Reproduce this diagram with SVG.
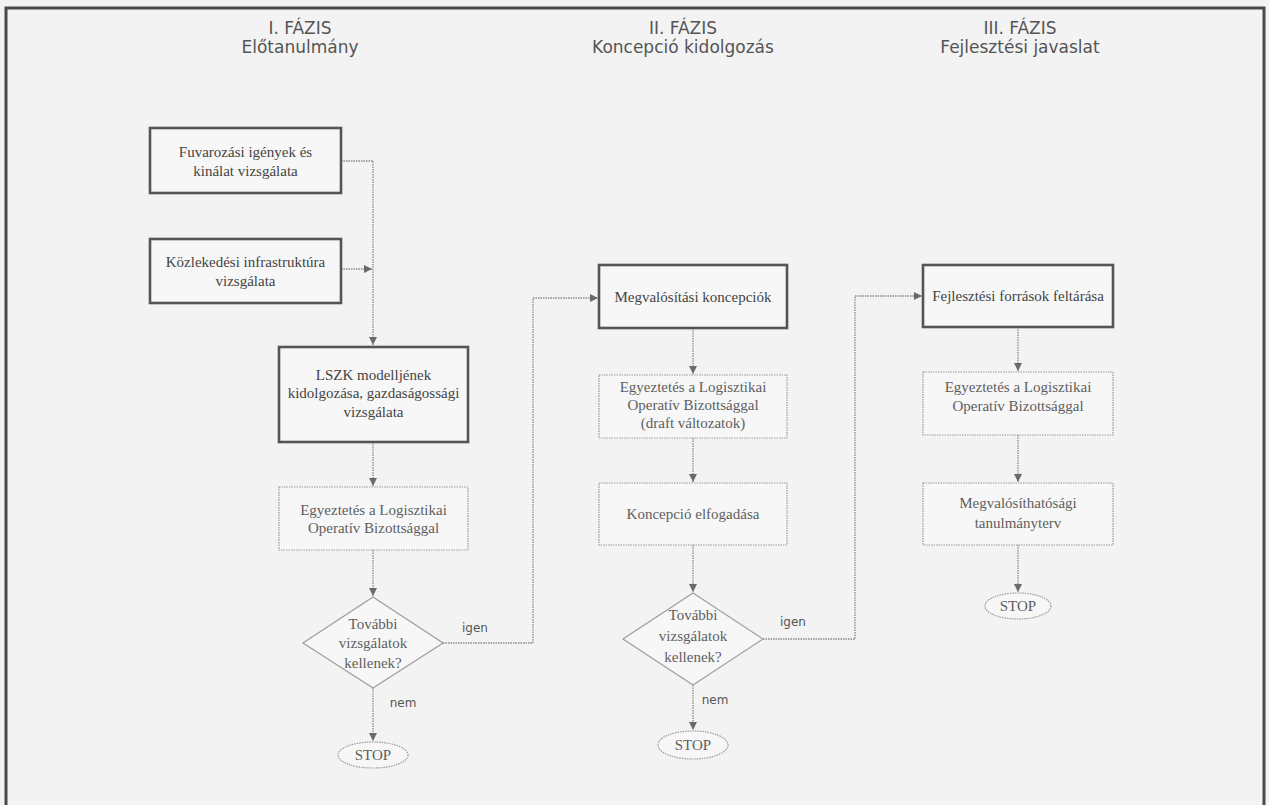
<svg xmlns="http://www.w3.org/2000/svg" width="1269" height="805" viewBox="0 0 1269 805">
<style>
.bg{fill:#f3f3f3}
.frame{fill:none;stroke:#4a4a4a;stroke-width:3}
.head{font-family:"DejaVu Sans","Verdana",sans-serif;font-size:17px;fill:#555;text-anchor:middle}
.thick{fill:#f7f7f7;stroke:#555;stroke-width:2.6}
.thin{fill:#f7f7f7;stroke:#9a9a9a;stroke-width:1.2;stroke-dasharray:1.5 1}
.dia{fill:#f7f7f7;stroke:#a0a0a0;stroke-width:1.3}
.ell{fill:#f7f7f7;stroke:#9a9a9a;stroke-width:1.2;stroke-dasharray:1.5 1}
.t{font-family:"Liberation Serif","Times New Roman",serif;font-size:15px;fill:#444;text-anchor:middle}
.tl{font-family:"Liberation Serif","Times New Roman",serif;font-size:15px;fill:#5e5e5e;text-anchor:middle}
.lab{font-family:"DejaVu Sans","Verdana",sans-serif;font-size:12px;fill:#555;text-anchor:middle}
.c{fill:none;stroke:#8a8a8a;stroke-width:1.3;stroke-dasharray:1.5 1}
</style>
<defs>
<marker id="arr" viewBox="0 0 10 10" refX="10" refY="5" markerWidth="8" markerHeight="8" markerUnits="userSpaceOnUse" orient="auto">
<path d="M0,0 L10,5 L0,10 z" fill="#6a6a6a"/>
</marker>
</defs>
<rect class="bg" x="0" y="0" width="1269" height="805"/>
<rect class="frame" x="6" y="8" width="1258" height="830"/>

<g id="headings">
<text class="head" x="300" y="34">I. FÁZIS</text>
<text class="head" x="300" y="53">Előtanulmány</text>
<text class="head" x="683" y="34">II. FÁZIS</text>
<text class="head" x="683" y="53">Koncepció kidolgozás</text>
<text class="head" x="1020" y="34">III. FÁZIS</text>
<text class="head" x="1020" y="53">Fejlesztési javaslat</text>
</g>

<g id="connectors">
<path class="c" d="M341,161 H373 V345" marker-end="url(#arr)"/>
<path class="c" d="M341,269 H372" marker-end="url(#arr)"/>
<path class="c" d="M373,442 V486" marker-end="url(#arr)"/>
<path class="c" d="M373,550 V596" marker-end="url(#arr)"/>
<path class="c" d="M373,688 V741" marker-end="url(#arr)"/>
<path class="c" d="M443,643 H533 V298 H598" marker-end="url(#arr)"/>
<path class="c" d="M693,328 V374" marker-end="url(#arr)"/>
<path class="c" d="M693,438 V482" marker-end="url(#arr)"/>
<path class="c" d="M693,545 V592" marker-end="url(#arr)"/>
<path class="c" d="M693,685 V730" marker-end="url(#arr)"/>
<path class="c" d="M763,639 H855 V296 H922" marker-end="url(#arr)"/>
<path class="c" d="M1018,327 V371" marker-end="url(#arr)"/>
<path class="c" d="M1018,435 V482" marker-end="url(#arr)"/>
<path class="c" d="M1018,545 V592" marker-end="url(#arr)"/>
<text class="lab" x="475" y="632">igen</text>
<text class="lab" x="403" y="707">nem</text>
<text class="lab" x="793" y="626">igen</text>
<text class="lab" x="715" y="704">nem</text>
</g>

<g id="n1">
<rect class="thick" x="150" y="128" width="191" height="65"/>
<text class="t" x="245.5" y="157">Fuvarozási igények és</text>
<text class="t" x="245.5" y="176">kinálat vizsgálata</text>
</g>
<g id="n2">
<rect class="thick" x="150" y="239" width="191" height="64"/>
<text class="t" x="245.5" y="267">Közlekedési infrastruktúra</text>
<text class="t" x="245.5" y="286">vizsgálata</text>
</g>
<g id="n3">
<rect class="thick" x="279" y="347" width="189" height="95"/>
<text class="t" x="373.5" y="380">LSZK modelljének</text>
<text class="t" x="373.5" y="398">kidolgozása, gazdaságossági</text>
<text class="t" x="373.5" y="417">vizsgálata</text>
</g>
<g id="n4">
<rect class="thin" x="279" y="487" width="189" height="63"/>
<text class="tl" x="373.5" y="515">Egyeztetés a Logisztikai</text>
<text class="tl" x="373.5" y="533">Operatív Bizottsággal</text>
</g>
<g id="d1">
<polygon class="dia" points="373,597 443,643 373,688 303,643"/>
<text class="tl" x="373" y="629">További</text>
<text class="tl" x="373" y="648">vizsgálatok</text>
<text class="tl" x="373" y="668">kellenek?</text>
</g>
<g id="s1">
<ellipse class="ell" cx="373" cy="755" rx="35" ry="13"/>
<text class="tl" x="373" y="760">STOP</text>
</g>

<g id="m1">
<rect class="thick" x="599" y="265" width="188" height="63"/>
<text class="t" x="693" y="302">Megvalósítási koncepciók</text>
</g>
<g id="m2">
<rect class="thin" x="599" y="375" width="188" height="63"/>
<text class="tl" x="693" y="392">Egyeztetés a Logisztikai</text>
<text class="tl" x="693" y="410">Operatív Bizottsággal</text>
<text class="tl" x="693" y="428">(draft változatok)</text>
</g>
<g id="m3">
<rect class="thin" x="599" y="483" width="188" height="62"/>
<text class="tl" x="693" y="519">Koncepció elfogadása</text>
</g>
<g id="d2">
<polygon class="dia" points="693,593 763,639 693,685 623,639"/>
<text class="tl" x="693" y="620">További</text>
<text class="tl" x="693" y="641">vizsgálatok</text>
<text class="tl" x="693" y="662">kellenek?</text>
</g>
<g id="s2">
<ellipse class="ell" cx="693" cy="745" rx="35" ry="14"/>
<text class="tl" x="693" y="750">STOP</text>
</g>

<g id="f1">
<rect class="thick" x="923" y="265" width="190" height="62"/>
<text class="t" x="1018" y="301">Fejlesztési források feltárása</text>
</g>
<g id="f2">
<rect class="thin" x="923" y="372" width="190" height="63"/>
<text class="tl" x="1018" y="392">Egyeztetés a Logisztikai</text>
<text class="tl" x="1018" y="411">Operatív Bizottsággal</text>
</g>
<g id="f3">
<rect class="thin" x="923" y="483" width="190" height="62"/>
<text class="tl" x="1018" y="508">Megvalósíthatósági</text>
<text class="tl" x="1018" y="528">tanulmányterv</text>
</g>
<g id="s3">
<ellipse class="ell" cx="1018" cy="606" rx="33" ry="13"/>
<text class="tl" x="1018" y="611">STOP</text>
</g>
</svg>
